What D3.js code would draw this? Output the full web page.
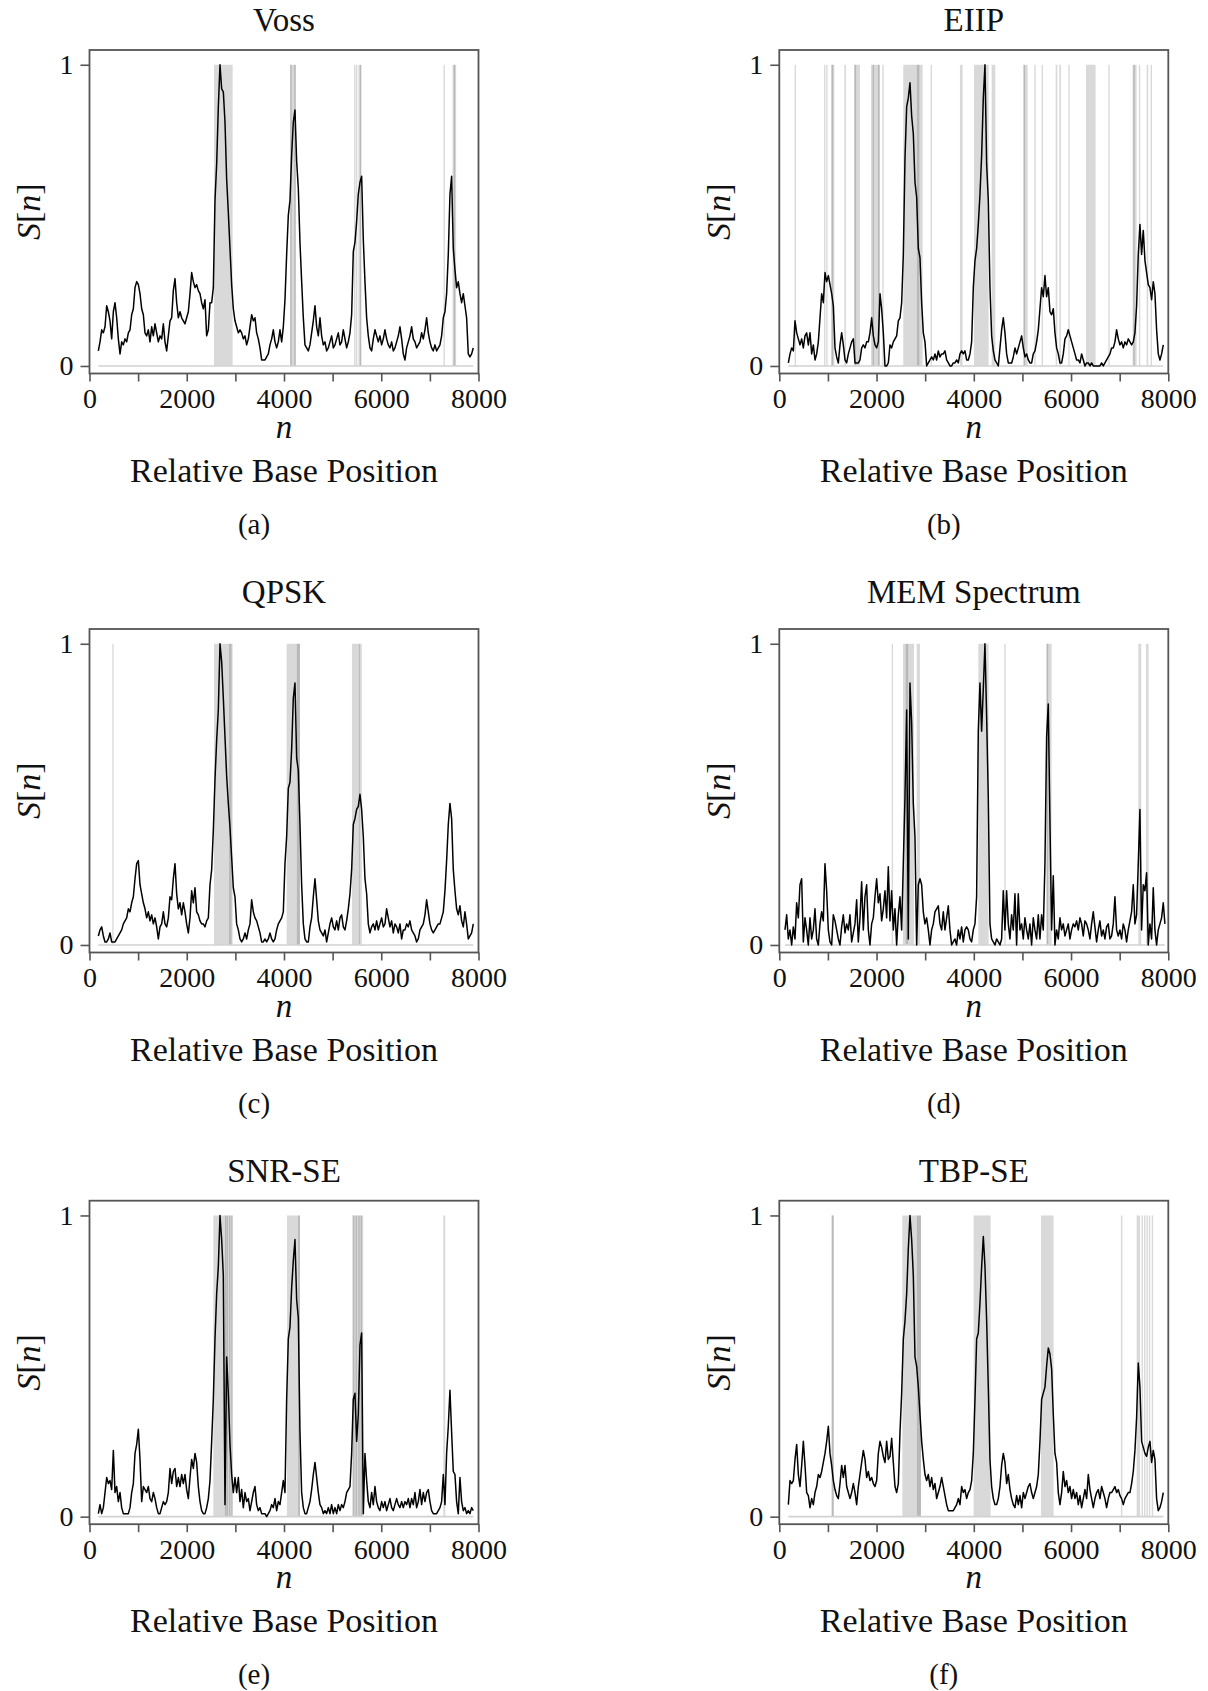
<!DOCTYPE html>
<html>
<head>
<meta charset="utf-8">
<script src="https://cdn.jsdelivr.net/npm/d3@7"></script>
<style>
  html, body { margin: 0; padding: 0; background: #fff; }
  svg { display: block; }
  text { font-family: "Liberation Serif", "Times New Roman", serif; fill: #111; }
</style>
</head>
<body>
<svg id="fig" width="1208" height="1691"></svg>
<script>
// ---- data -------------------------------------------------------------
// Each signal S[n] is sampled every STEP bases, starting at its own first base.
const STEP = 34.27;

const titles  = ["Voss", "EIIP", "QPSK", "MEM Spectrum", "SNR-SE", "TBP-SE"];
const letters = ["(a)", "(b)", "(c)", "(d)", "(e)", "(f)"];
const xTicks  = [0, 1000, 2000, 3000, 4000, 5000, 6000, 7000, 8000];
const xTickLabels = [0, 2000, 4000, 6000, 8000];
const yTicks  = [0, 1];

const firstBase = [182, 186, 182, 117, 182, 186];

const vossS = [
  .05,.08,.12,.11,.13,.20,.18,.15,.09,.18, .21,.16,.09,.04,.08,.07,.09,.08,.11,.12,
  .17,.19,.26,.28,.27,.24,.19,.17,.11,.10, .12,.08,.13,.10,.14,.11,.08,.10,.09,.14,
  .08,.05,.10,.15,.16,.25,.29,.21,.16,.18, .16,.15,.14,.16,.18,.24,.31,.28,.26,.27,
  .25,.24,.21,.19,.22,.10,.12,.21,.21,.26, .55,.67,.86,1.00,.92,.91,.81,.62,.51,.39,
  .27,.19,.15,.13,.11,.12,.11,.09,.10,.07, .09,.13,.17,.15,.16,.11,.09,.06,.02,.02,
  .02,.03,.04,.07,.09,.12,.08,.06,.08,.12, .08,.13,.22,.37,.50,.55,.70,.81,.85,.68,
  .59,.41,.28,.16,.07,.06,.05,.07,.11,.15, .20,.13,.10,.16,.10,.07,.08,.05,.06,.08,
  .10,.06,.07,.09,.11,.07,.08,.12,.09,.06, .08,.11,.17,.38,.41,.48,.57,.61,.63,.42,
  .28,.16,.10,.06,.05,.09,.12,.10,.08,.10, .07,.09,.12,.09,.07,.06,.08,.05,.06,.08,
  .10,.13,.09,.04,.02,.06,.08,.10,.13,.09, .08,.06,.07,.08,.11,.09,.12,.16,.11,.08,
  .06,.05,.07,.05,.06,.07,.10,.16,.18,.24, .37,.57,.63,.39,.32,.26,.28,.24,.21,.24,
  .20,.16,.04,.03,.04,.06
];

const eiipS = [
  .01,.04,.06,.05,.15,.11,.09,.07,.09,.06, .10,.11,.07,.11,.04,.07,.02,.04,.08,.16,
  .24,.21,.31,.28,.30,.27,.24,.20,.06,.03, .01,.07,.11,.07,.02,.01,.04,.06,.08,.09,
  .01,.01,.01,.02,.06,.07,.06,.08,.08,.11, .16,.10,.07,.06,.08,.24,.19,.11,.00,.00,
  .01,.07,.06,.08,.09,.10,.15,.16,.21,.37, .69,.86,.89,.94,.83,.77,.61,.56,.39,.36,
  .21,.11,.08,.00,.01,.02,.03,.02,.04,.02, .05,.03,.04,.04,.05,.02,.01,.00,.00,.01,
  .01,.02,.01,.04,.05,.04,.05,.02,.02,.04, .08,.26,.35,.39,.47,.57,.70,.89,1.00,.67,
  .55,.26,.10,.05,.02,.01,.00,.06,.12,.16, .11,.04,.01,.01,.01,.03,.06,.04,.06,.08,
  .10,.06,.03,.04,.02,.01,.01,.04,.05,.08, .12,.19,.26,.23,.30,.23,.26,.18,.17,.19,
  .11,.06,.04,.01,.01,.04,.09,.10,.12,.10, .08,.06,.04,.02,.02,.01,.04,.02,.00,.01,
  .01,.00,.01,.00,.00,.00,.00,.00,.01,.00, .01,.02,.03,.04,.06,.06,.08,.12,.09,.07,
  .08,.06,.08,.07,.09,.08,.07,.08,.11,.20, .37,.47,.37,.45,.35,.31,.27,.26,.22,.28,
  .24,.12,.04,.02,.04,.07
];

const qpskS = [
  .03,.05,.06,.03,.01,.01,.02,.04,.01,.01, .01,.02,.03,.04,.05,.07,.08,.09,.12,.11,
  .14,.16,.22,.27,.28,.20,.17,.14,.12,.09, .11,.08,.10,.07,.09,.06,.02,.06,.07,.11,
  .07,.06,.09,.16,.15,.22,.27,.17,.12,.14, .10,.14,.11,.07,.04,.09,.18,.14,.19,.11,
  .10,.08,.07,.07,.06,.08,.09,.20,.25,.38, .55,.68,.78,1.00,.94,.82,.69,.56,.47,.39,
  .29,.19,.16,.07,.05,.02,.01,.02,.04,.02, .05,.07,.15,.11,.09,.08,.06,.04,.01,.01,
  .02,.01,.02,.04,.02,.01,.02,.05,.07,.08, .09,.11,.27,.36,.52,.54,.65,.82,.87,.62,
  .58,.40,.20,.07,.02,.01,.01,.06,.09,.16, .22,.15,.08,.05,.04,.03,.05,.01,.04,.07,
  .09,.06,.05,.08,.05,.09,.10,.06,.05,.08, .12,.17,.25,.40,.42,.45,.46,.50,.45,.36,
  .22,.17,.07,.04,.06,.07,.05,.08,.05,.07, .09,.06,.07,.12,.09,.06,.08,.04,.07,.06,
  .04,.07,.02,.05,.05,.07,.06,.08,.05,.04, .03,.01,.02,.05,.06,.07,.10,.15,.11,.07,
  .05,.04,.05,.06,.07,.07,.09,.11,.18,.28, .40,.47,.42,.25,.18,.12,.10,.13,.08,.06,
  .11,.07,.02,.03,.04,.07
];

const memS = [
  .05,.10,.02,.05,.00,.06,.02,.14,.09,.20, .22,.01,.09,.05,.00,.09,.02,.05,.12,.02,
  .00,.07,.11,.08,.27,.18,.05,.01,.00,.10, .08,.05,.02,.00,.06,.10,.04,.07,.05,.10,
  .01,.04,.07,.15,.01,.09,.21,.05,.16,.20, .05,.00,.07,.09,.16,.22,.14,.17,.08,.12,
  .18,.09,.26,.08,.18,.05,.12,.00,.10,.16, .05,.27,.49,.78,.02,.87,.74,.47,.36,.00,
  .20,.22,.20,.11,.07,.09,.05,.00,.05,.07, .11,.12,.13,.07,.05,.11,.05,.09,.13,.05,
  .00,.01,.02,.00,.05,.02,.06,.01,.05,.06, .05,.02,.01,.05,.07,.16,.71,.87,.71,.85,
  1.00,.76,.49,.07,.02,.01,.00,.02,.01,.00, .02,.18,.05,.18,.07,.02,.10,.05,.17,.00,
  .17,.05,.07,.02,.09,.05,.02,.07,.00,.09, .05,.02,.10,.02,.10,.05,.27,.69,.80,.41,
  .05,.23,.00,.05,.02,.09,.05,.07,.03,.05, .07,.02,.05,.07,.06,.08,.05,.09,.07,.03,
  .08,.07,.05,.02,.07,.11,.06,.01,.05,.08, .03,.05,.02,.06,.07,.02,.03,.07,.16,.05,
  .03,.05,.02,.07,.05,.01,.05,.08,.11,.20, .07,.10,.27,.45,.05,.20,.18,.24,.00,.07,
  .02,.19,.05,.00,.05,.07,.09,.14,.07
];

const snrS = [
  .01,.04,.01,.03,.08,.13,.11,.12,.09,.22, .08,.10,.05,.08,.03,.01,.01,.01,.01,.03,
  .08,.11,.21,.24,.29,.19,.05,.10,.09,.08, .10,.06,.05,.08,.06,.03,.01,.01,.03,.05,
  .04,.05,.08,.16,.11,.15,.16,.10,.13,.10, .14,.11,.14,.09,.06,.13,.19,.16,.21,.18,
  .10,.05,.02,.01,.01,.03,.06,.12,.25,.39, .59,.74,.83,1.00,.92,.80,.04,.53,.41,.24,
  .14,.08,.13,.08,.13,.05,.09,.03,.08,.05, .06,.02,.05,.08,.10,.04,.02,.03,.01,.01,
  .01,.00,.01,.02,.04,.03,.06,.02,.05,.04, .08,.12,.08,.39,.59,.63,.76,.85,.92,.72,
  .66,.28,.08,.03,.01,.01,.03,.05,.09,.14, .18,.13,.08,.04,.03,.01,.02,.01,.03,.01,
  .04,.01,.03,.01,.04,.02,.04,.03,.05,.08, .09,.10,.21,.39,.41,.25,.34,.57,.61,.01,
  .21,.12,.05,.03,.08,.04,.10,.05,.03,.02, .05,.03,.05,.02,.04,.06,.03,.02,.04,.06,
  .04,.03,.05,.03,.05,.04,.06,.03,.06,.04, .08,.03,.05,.09,.04,.08,.05,.08,.09,.05,
  .02,.01,.01,.01,.02,.03,.05,.14,.04,.21, .30,.42,.28,.15,.14,.05,.01,.13,.05,.02,
  .03,.01,.02,.01,.03,.02
];

const tbpS = [
  .04,.12,.11,.12,.19,.24,.14,.10,.17,.25, .17,.08,.07,.03,.06,.04,.08,.10,.14,.13,
  .15,.18,.21,.25,.30,.21,.17,.12,.09,.07, .06,.11,.17,.13,.17,.10,.08,.06,.08,.11,
  .08,.04,.10,.14,.18,.22,.19,.13,.15,.12, .13,.11,.10,.12,.21,.25,.23,.20,.18,.25,
  .19,.20,.26,.18,.10,.08,.11,.28,.41,.59, .65,.74,.89,1.00,.92,.80,.53,.50,.43,.34,
  .25,.19,.14,.12,.14,.10,.13,.09,.11,.06, .08,.10,.13,.10,.07,.04,.02,.02,.02,.02,
  .03,.04,.06,.04,.10,.08,.09,.06,.08,.09, .12,.21,.39,.59,.61,.71,.83,.93,.83,.65,
  .43,.19,.10,.06,.04,.04,.06,.10,.17,.21, .18,.11,.14,.09,.06,.04,.03,.07,.04,.07,
  .03,.08,.06,.08,.10,.11,.08,.06,.08,.10, .14,.25,.39,.41,.43,.50,.56,.54,.49,.34,
  .21,.18,.08,.04,.08,.15,.10,.12,.08,.10, .06,.09,.06,.08,.04,.07,.03,.06,.09,.06,
  .14,.09,.06,.03,.06,.08,.09,.06,.10,.08, .06,.03,.06,.08,.08,.09,.10,.08,.09,.07,
  .06,.04,.06,.07,.08,.08,.11,.15,.22,.33, .51,.43,.25,.23,.21,.20,.23,.25,.18,.22,
  .19,.06,.02,.03,.05,.08
];

// Annotated regions [start, end] in bases (overlapping regions render darker).
const vossBands = [[2560,2944],[4122,4246],[4130,4150],[4210,4235],[5440,5470],[5480,5500],
  [5530,5590],[5560,5575],[7280,7300],[7465,7540],[7490,7515]];
const eiipBands = [[315,335],[920,935],[965,975],[1063,1131],[1080,1100],[1337,1371],[1536,1659],
  [1550,1570],[1886,2071],[1920,1935],[2030,2050],[2118,2139],[2550,2948],[2830,2880],[3112,3140],
  [3715,3770],[4003,4305],[4367,4442],[5018,5107],[5025,5045],[5244,5271],[5395,5422],[5683,5717],
  [5758,5792],[5943,5971],[6306,6505],[6766,6793],[7266,7348],[7280,7300],[7395,7410],[7554,7588],
  [7636,7664]];
const qpskBands = [[468,485],[2560,2944],[2870,2920],[4054,4328],[4265,4328],[5397,5560],[5540,5600]];
const memBands = [[2311,2331],[2543,2770],[2600,2650],[2825,2893],[4093,4305],[4627,4648],
  [5491,5600],[5500,5530],[7383,7444],[7540,7595]];
const snrBands = [[2546,2944],[2785,2800],[2820,2835],[2868,2882],[2915,2930],[4061,4328],[4290,4328],
  [5404,5630],[5418,5430],[5472,5486],[5528,5540],[5576,5590],[7276,7317]];
const tbpBands = [[1070,1125],[1085,1100],[2530,2913],[2830,2913],[3996,4346],[5381,5641],[7026,7046],
  [7349,7420],[7450,7465],[7500,7515],[7550,7565],[7600,7615],[7660,7680]];

// ---- layout -----------------------------------------------------------
const series = [vossS, eiipS, qpskS, memS, snrS, tbpS];
const bands  = [vossBands, eiipBands, qpskBands, memBands, snrBands, tbpBands];

const colLeft  = [89.5, 779.3];
const frameW   = 389;
const rowTop   = [50, 629, 1200.7];
const frameH   = 323.5;
const titleGap = [19.3, 25.7, 19];

const svg = d3.select("#fig");

series.forEach((vals, i) => {
  const col = i % 2, row = Math.floor(i / 2);
  const left = colLeft[col], top = rowTop[row];
  const bottom = top + frameH, cx = left + frameW / 2;

  const x = d3.scaleLinear().domain([0, 8000]).range([left, left + frameW]);
  const y = d3.scaleLinear().domain([-0.025, 1.049]).range([bottom, top]);

  const pts = vals.map((v, k) => [firstBase[i] + k * STEP, v]);
  const g = svg.append("g");

  const clipId = "clip" + i;
  g.append("clipPath").attr("id", clipId)
    .append("rect").attr("x", left).attr("y", top).attr("width", frameW).attr("height", frameH);
  const plot = g.append("g").attr("clip-path", `url(#${clipId})`);

  // shaded regions
  plot.selectAll("rect.band").data(bands[i]).join("rect")
    .attr("class", "band")
    .attr("x", d => x(d[0]))
    .attr("width", d => Math.max(x(d[1]) - x(d[0]), 1.4))
    .attr("y", y(1))
    .attr("height", y(0) - y(1))
    .attr("fill", "#000")
    .attr("fill-opacity", 0.15);

  // zero reference line over the sequence extent
  const line = d3.line().x(d => x(d[0])).y(d => y(d[1]));
  plot.append("path")
    .attr("d", line([[pts[0][0], 0], [pts[pts.length - 1][0], 0]]))
    .attr("stroke", "#d2d2d2").attr("stroke-width", 1.6).attr("fill", "none");

  // signal
  plot.append("path")
    .attr("d", line(pts))
    .attr("stroke", "#000").attr("stroke-width", 1.5)
    .attr("stroke-linejoin", "round").attr("fill", "none");

  // frame
  g.append("rect")
    .attr("x", left).attr("y", top).attr("width", frameW).attr("height", frameH)
    .attr("fill", "none").attr("stroke", "#555").attr("stroke-width", 1.8);

  // axes
  const xAxis = d3.axisBottom(x).tickValues(xTicks)
    .tickFormat(d => xTickLabels.includes(d) ? d : "")
    .tickSize(8).tickPadding(7);
  const ax = g.append("g").attr("transform", `translate(0,${bottom})`).call(xAxis);
  const yAxis = d3.axisLeft(y).tickValues(yTicks).tickFormat(d3.format("d"))
    .tickSize(9).tickPadding(7);
  const ay = g.append("g").attr("transform", `translate(${left},0)`).call(yAxis);
  [ax, ay].forEach(a => {
    a.select(".domain").remove();
    a.selectAll(".tick line").attr("stroke", "#555").attr("stroke-width", 1.6);
    a.selectAll(".tick text")
      .style("font-family", '"Liberation Serif", serif')
      .style("font-size", "28px").attr("fill", "#111");
  });

  // title
  g.append("text").attr("x", cx).attr("y", top - titleGap[row])
    .attr("text-anchor", "middle").style("font-size", "33px").text(titles[i]);

  // y label S[n]
  const yl = g.append("text")
    .attr("transform", `translate(${left - 49.5},${top + frameH / 2}) rotate(-90)`)
    .attr("text-anchor", "middle").style("font-size", "34px");
  yl.append("tspan").style("font-style", "italic").text("S");
  yl.append("tspan").text("[");
  yl.append("tspan").style("font-style", "italic").text("n");
  yl.append("tspan").text("]");

  // x labels
  g.append("text").attr("x", cx).attr("y", bottom + 64)
    .attr("text-anchor", "middle").style("font-size", "33px").style("font-style", "italic").text("n");
  g.append("text").attr("x", cx).attr("y", bottom + 108.2)
    .attr("text-anchor", "middle").style("font-size", "34px").text("Relative Base Position");

  // subfigure letter
  g.append("text").attr("x", cx - 30).attr("y", bottom + 160)
    .attr("text-anchor", "middle").style("font-size", "29px").text(letters[i]);
});
</script>
</body>
</html>
